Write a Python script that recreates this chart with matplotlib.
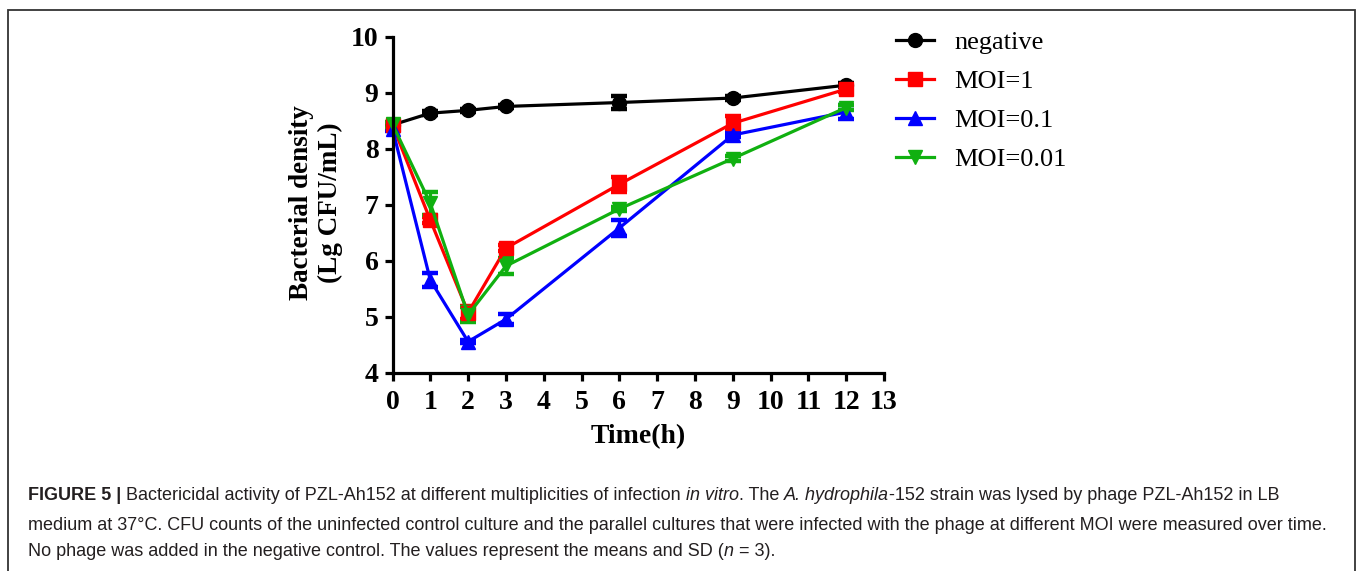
import matplotlib
matplotlib.use("Agg")
import matplotlib.pyplot as plt
from matplotlib import font_manager
from matplotlib.patches import Rectangle
from matplotlib.lines import Line2D

# ---------------- data ----------------
time_h = [0, 1, 2, 3, 6, 9, 12]
negative = [8.43, 8.64, 8.69, 8.76, 8.83, 8.91, 9.14]
negative_sd = [0.03, 0.04, 0.03, 0.03, 0.11, 0.04, 0.03]
moi_1 = [8.43, 6.73, 5.08, 6.23, 7.37, 8.46, 9.07]
moi_1_sd = [0.04, 0.06, 0.12, 0.05, 0.13, 0.13, 0.05]
moi_01 = [8.36, 5.66, 4.56, 4.96, 6.59, 8.25, 8.66]
moi_01_sd = [0.04, 0.12, 0.03, 0.09, 0.14, 0.04, 0.12]
moi_001 = [8.44, 7.03, 5.04, 5.91, 6.93, 7.83, 8.74]
moi_001_sd = [0.04, 0.20, 0.13, 0.15, 0.04, 0.04, 0.05]

series_labels = ["negative", "MOI=1", "MOI=0.1", "MOI=0.01"]
x_ticks = list(range(0, 14))
y_ticks = [4, 5, 6, 7, 8, 9, 10]

W, H = 1357, 571
fig = plt.figure(figsize=(W / 100, H / 100), dpi=100)

def px(x, y):
    return x / W, 1 - y / H

serif = "Liberation Serif"

# axes placement
x0, x1 = 392.5, 884
y_top, y_bot = 37, 373
ax = fig.add_axes([x0 / W, 1 - y_bot / H, (x1 - x0) / W, (y_bot - y_top) / H])

styles = [
    (negative, negative_sd, "black", "o", 10),
    (moi_1, moi_1_sd, "#ff0000", "s", 10),
    (moi_01, moi_01_sd, "#0000ff", "^", 10),
    (moi_001, moi_001_sd, "#10b010", "v", 10),
]
handles = []
for (vals, sd, col, mk, ms), lab in zip(styles, series_labels):
    ax.errorbar(time_h, vals, yerr=sd, color=col, lw=2.3, marker=mk, ms=ms,
                capsize=6, capthick=3.2, elinewidth=2.3, clip_on=False)
    handles.append(Line2D([], [], color=col, lw=2.3, marker=mk, ms=ms, label=lab))

ax.set_xlim(0, 13)
ax.set_ylim(4, 10)
ax.set_xticks(x_ticks)
ax.set_yticks(y_ticks)
for s in ["top", "right"]:
    ax.spines[s].set_visible(False)
for s in ["left", "bottom"]:
    ax.spines[s].set_linewidth(2.3)
ax.tick_params(direction="out", length=6, width=2.3)
ax.tick_params(axis="x", pad=6)
ax.tick_params(axis="y", pad=4)
for lbl in ax.get_xticklabels() + ax.get_yticklabels():
    lbl.set_fontfamily(serif)
    lbl.set_fontweight("bold")
    lbl.set_fontsize(20)

fx, fy = px(316, 203)
fig.text(fx, fy, "Bacterial density\n(Lg CFU/mL)", rotation=90, ha="center", va="center",
         family=serif, fontweight="bold", fontsize=19.5, linespacing=1.2, multialignment="center")
fx, fy = px(638, 437)
fig.text(fx, fy, "Time(h)", ha="center", va="center", family=serif, fontweight="bold", fontsize=20)

lx, ly = px(896, 31)
leg = fig.legend(handles=handles, loc="upper left", bbox_to_anchor=(lx, ly),
                 frameon=False, prop={"family": serif, "size": 19},
                 handlelength=1.45, handletextpad=0.75, labelspacing=0.58,
                 borderpad=0, borderaxespad=0, numpoints=1)

# border
bx, by = px(8, 10)
fig.add_artist(Rectangle((bx, -0.05), (1355 - 8) / W, by + 0.05, transform=fig.transFigure,
                         fill=False, edgecolor="#333333", lw=1.3))

# ---------------- caption ----------------
avail = {f.name for f in font_manager.fontManager.ttflist}
cap_family = "Liberation Sans Narrow" if "Liberation Sans Narrow" in avail else "Liberation Sans"
cap_color = "#231f20"

caption_lines = [
    [("FIGURE 5 |", "bold", "normal"), ("Bactericidal activity of PZL-Ah152 at different multiplicities of infection", "normal", "normal"),
     ("in vitro", "normal", "italic"), ("@. The", "normal", "normal"), ("A. hydrophila", "normal", "italic"),
     ("@-152 strain was lysed by phage PZL-Ah152 in LB", "normal", "normal")],
    [("medium at 37°C. CFU counts of the uninfected control culture and the parallel cultures that were infected with the phage at different MOI were measured over time.", "normal", "normal")],
    [("No phage was added in the negative control. The values represent the means and SD (", "normal", "normal"),
     ("@n", "normal", "italic"), ("@ = 3).", "normal", "normal")],
]
line_y = [496, 525, 552]

renderer = fig.canvas.get_renderer()

def width_of(s, size, weight="normal", style="normal"):
    t = fig.text(0, 0, s, fontsize=size, family=cap_family, fontweight=weight, fontstyle=style)
    w = t.get_window_extent(renderer).width
    t.remove()
    return w

# fit font size so line 2 spans 28 -> 1335 px
ref = width_of(caption_lines[1][0][0], 10)
cap_size = 10 * (1335 - 28) / ref
space_w = width_of("a a", cap_size) - width_of("aa", cap_size)

for pieces, yy in zip(caption_lines, line_y):
    cx = 28.0
    first = True
    for text, weight, style in pieces:
        glue = text.startswith("@")
        if glue:
            text = text[1:]
        elif not first:
            cx += space_w
        fxp, fyp = px(cx, yy)
        t = fig.text(fxp, fyp, text, fontsize=cap_size, family=cap_family, fontweight=weight,
                     fontstyle=style, color=cap_color, va="center", ha="left")
        cx += t.get_window_extent(renderer).width
        first = False

fig.savefig("out.png", dpi=100)
